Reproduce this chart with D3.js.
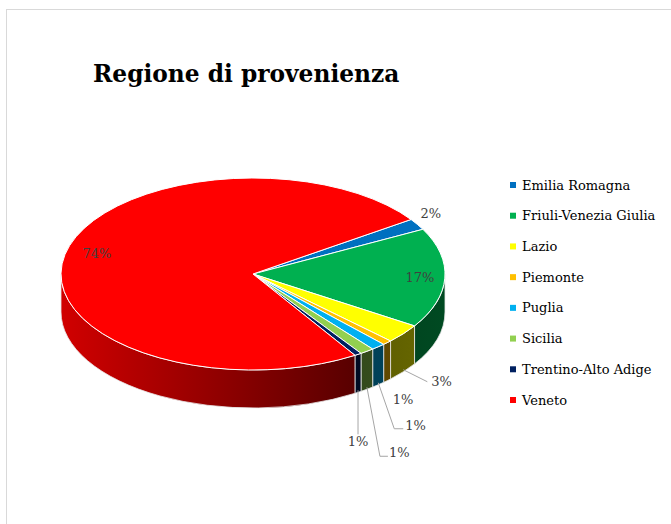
<!DOCTYPE html>
<html>
<head>
<meta charset="utf-8">
<script src="https://cdn.jsdelivr.net/npm/d3@7"></script>
<style>
  body { margin: 0; background: #fff; }
  svg { display: block; }
</style>
</head>
<body>
<svg id="chart"></svg>
<script>
// data (share of participants, %)
const regions = ["Emilia Romagna", "Friuli-Venezia Giulia", "Lazio", "Piemonte", "Puglia", "Sicilia", "Trentino-Alto Adige", "Veneto"];
const shares = [1.9, 16.8, 3.2, 0.8, 1.2, 1.2, 0.6, 74.3];
const sliceColors = ["#0070C0", "#00B050", "#FFFF00", "#FFC000", "#00B0F0", "#92D050", "#002060", "#FF0000"];

const W = 671, H = 524;
const cx = 253, cy = 274, rx = 192, ry = 96, depth = 38;
const firstSliceAngle = 55.4 * Math.PI / 180;
const serif = "'DejaVu Serif', serif";

// label placement: r = radial position on top face, or leader offsets from the side bottom
const labelLayout = {
    "Emilia Romagna": { r: 1.1, dx: -3, dy: -6 },
    "Friuli-Venezia Giulia": { r: 0.87 },
    "Veneto": { r: 0.83, dy: -4 },
    "Lazio": { leader: [[24, 12]], text: [28, 12], anchor: "start" },
    "Piemonte": { text: [16, 21], anchor: "middle" },
    "Puglia": { leader: [[16, 46], [25, 46]], text: [27, 43], anchor: "start" },
    "Sicilia": { leader: [[13, 69], [21, 69]], text: [22, 65], anchor: "start" },
    "Trentino-Alto Adige": { leader: [[0, 44]], text: [0, 51], anchor: "middle" }
};

const data = regions.map((name, i) => ({ name: name, share: shares[i], color: sliceColors[i] }));
const total = d3.sum(shares);
const pct = d3.format(".0%");

const svg = d3.select("#chart")
    .attr("width", W)
    .attr("height", H);

// chart area border
svg.append("rect")
    .attr("x", 6.5).attr("y", 9.5)
    .attr("width", W + 20).attr("height", H + 20)
    .attr("fill", "#fff")
    .attr("stroke", "#d9d9d9");

svg.append("text")
    .attr("x", 93).attr("y", 82)
    .style("font-family", serif)
    .style("font-weight", "bold")
    .style("font-size", "23.3px")
    .attr("fill", "#000")
    .text("Regione di provenienza");

const pie = d3.pie()
    .sort(null)
    .value(d => d.share)
    .startAngle(firstSliceAngle)
    .endAngle(firstSliceAngle + 2 * Math.PI);

const arcs = pie(data);

// project an angle (clockwise from 12 o'clock) onto the tilted ellipse
const P = (a, r = 1, dz = 0) => [cx + r * rx * Math.sin(a), cy - r * ry * Math.cos(a) + dz];

const defs = svg.append("defs");
const shade = (c, f) => { const k = d3.rgb(c); return d3.rgb(k.r * f, k.g * f, k.b * f).formatHex(); };
arcs.forEach((d, i) => {
    const g = defs.append("linearGradient")
        .attr("id", "side" + i)
        .attr("gradientUnits", "userSpaceOnUse")
        .attr("x1", cx - rx).attr("x2", cx + rx)
        .attr("y1", 0).attr("y2", 0);
    g.append("stop").attr("offset", 0).attr("stop-color", shade(d.data.color, 0.82));
    g.append("stop").attr("offset", 0.76).attr("stop-color", shade(d.data.color, 0.35));
    g.append("stop").attr("offset", 1).attr("stop-color", shade(d.data.color, 0.42));
});

// visible part of the outer wall (front half of the ellipse)
const sideRanges = d => {
    const out = [];
    [0, 2 * Math.PI].forEach(k => {
        const a = Math.max(d.startAngle, Math.PI / 2 + k);
        const b = Math.min(d.endAngle, 3 * Math.PI / 2 + k);
        if (b > a) out.push([a, b]);
    });
    return out;
};

const sidePath = (a, b) => {
    const p0 = P(a), p1 = P(b), q0 = P(a, 1, depth), q1 = P(b, 1, depth);
    return `M${p0}A${rx},${ry} 0 0 1 ${p1}L${q1}A${rx},${ry} 0 0 0 ${q0}Z`;
};

const topPath = d => {
    const p0 = P(d.startAngle), p1 = P(d.endAngle);
    const large = d.endAngle - d.startAngle > Math.PI ? 1 : 0;
    return `M${cx},${cy}L${p0}A${rx},${ry} 0 ${large} 1 ${p1}Z`;
};

const pieG = svg.append("g");

arcs.forEach((d, i) => {
    sideRanges(d).forEach(([a, b]) => {
        pieG.append("path")
            .attr("d", sidePath(a, b))
            .attr("fill", `url(#side${i})`)
            .attr("stroke", "#e8e8e8")
            .attr("stroke-width", 0.8);
    });
});

pieG.selectAll("path.top")
    .data(arcs)
    .join("path")
    .attr("class", "top")
    .attr("d", topPath)
    .attr("fill", d => d.data.color)
    .attr("stroke", "#fff")
    .attr("stroke-width", 1);

// data labels
const labelG = svg.append("g")
    .style("font-family", serif)
    .style("font-size", "13px")
    .attr("fill", "#404040");

arcs.forEach(d => {
    const lay = labelLayout[d.data.name];
    const mid = (d.startAngle + d.endAngle) / 2;
    const txt = pct(d.data.share / total);
    if (lay.r) {
        const p = P(mid, lay.r);
        labelG.append("text")
            .attr("x", p[0] + (lay.dx || 0))
            .attr("y", p[1] + (lay.dy || 0))
            .attr("text-anchor", "middle")
            .attr("dominant-baseline", "central")
            .text(txt);
    } else {
        const base = P(mid, 1, depth - 2);
        if (lay.leader) {
            const pts = [base].concat(lay.leader.map(o => [base[0] + o[0], base[1] + o[1]]));
            labelG.append("path")
                .attr("d", d3.line()(pts))
                .attr("fill", "none")
                .attr("stroke", "#a6a6a6")
                .attr("stroke-width", 1);
        }
        labelG.append("text")
            .attr("x", base[0] + lay.text[0])
            .attr("y", base[1] + lay.text[1])
            .attr("text-anchor", lay.anchor)
            .attr("dominant-baseline", "central")
            .text(txt);
    }
});

// legend
const legendY = d3.scalePoint()
    .domain(regions)
    .range([185, 400]);

const legend = svg.append("g")
    .selectAll("g")
    .data(data)
    .join("g")
    .attr("transform", d => `translate(510,${legendY(d.name)})`);

legend.append("rect")
    .attr("x", 0).attr("y", -3)
    .attr("width", 6).attr("height", 6)
    .attr("fill", d => d.color);

legend.append("text")
    .attr("x", 12)
    .attr("dominant-baseline", "central")
    .style("font-family", serif)
    .style("font-size", "13px")
    .attr("fill", "#000")
    .text(d => d.name);
</script>
</body>
</html>
